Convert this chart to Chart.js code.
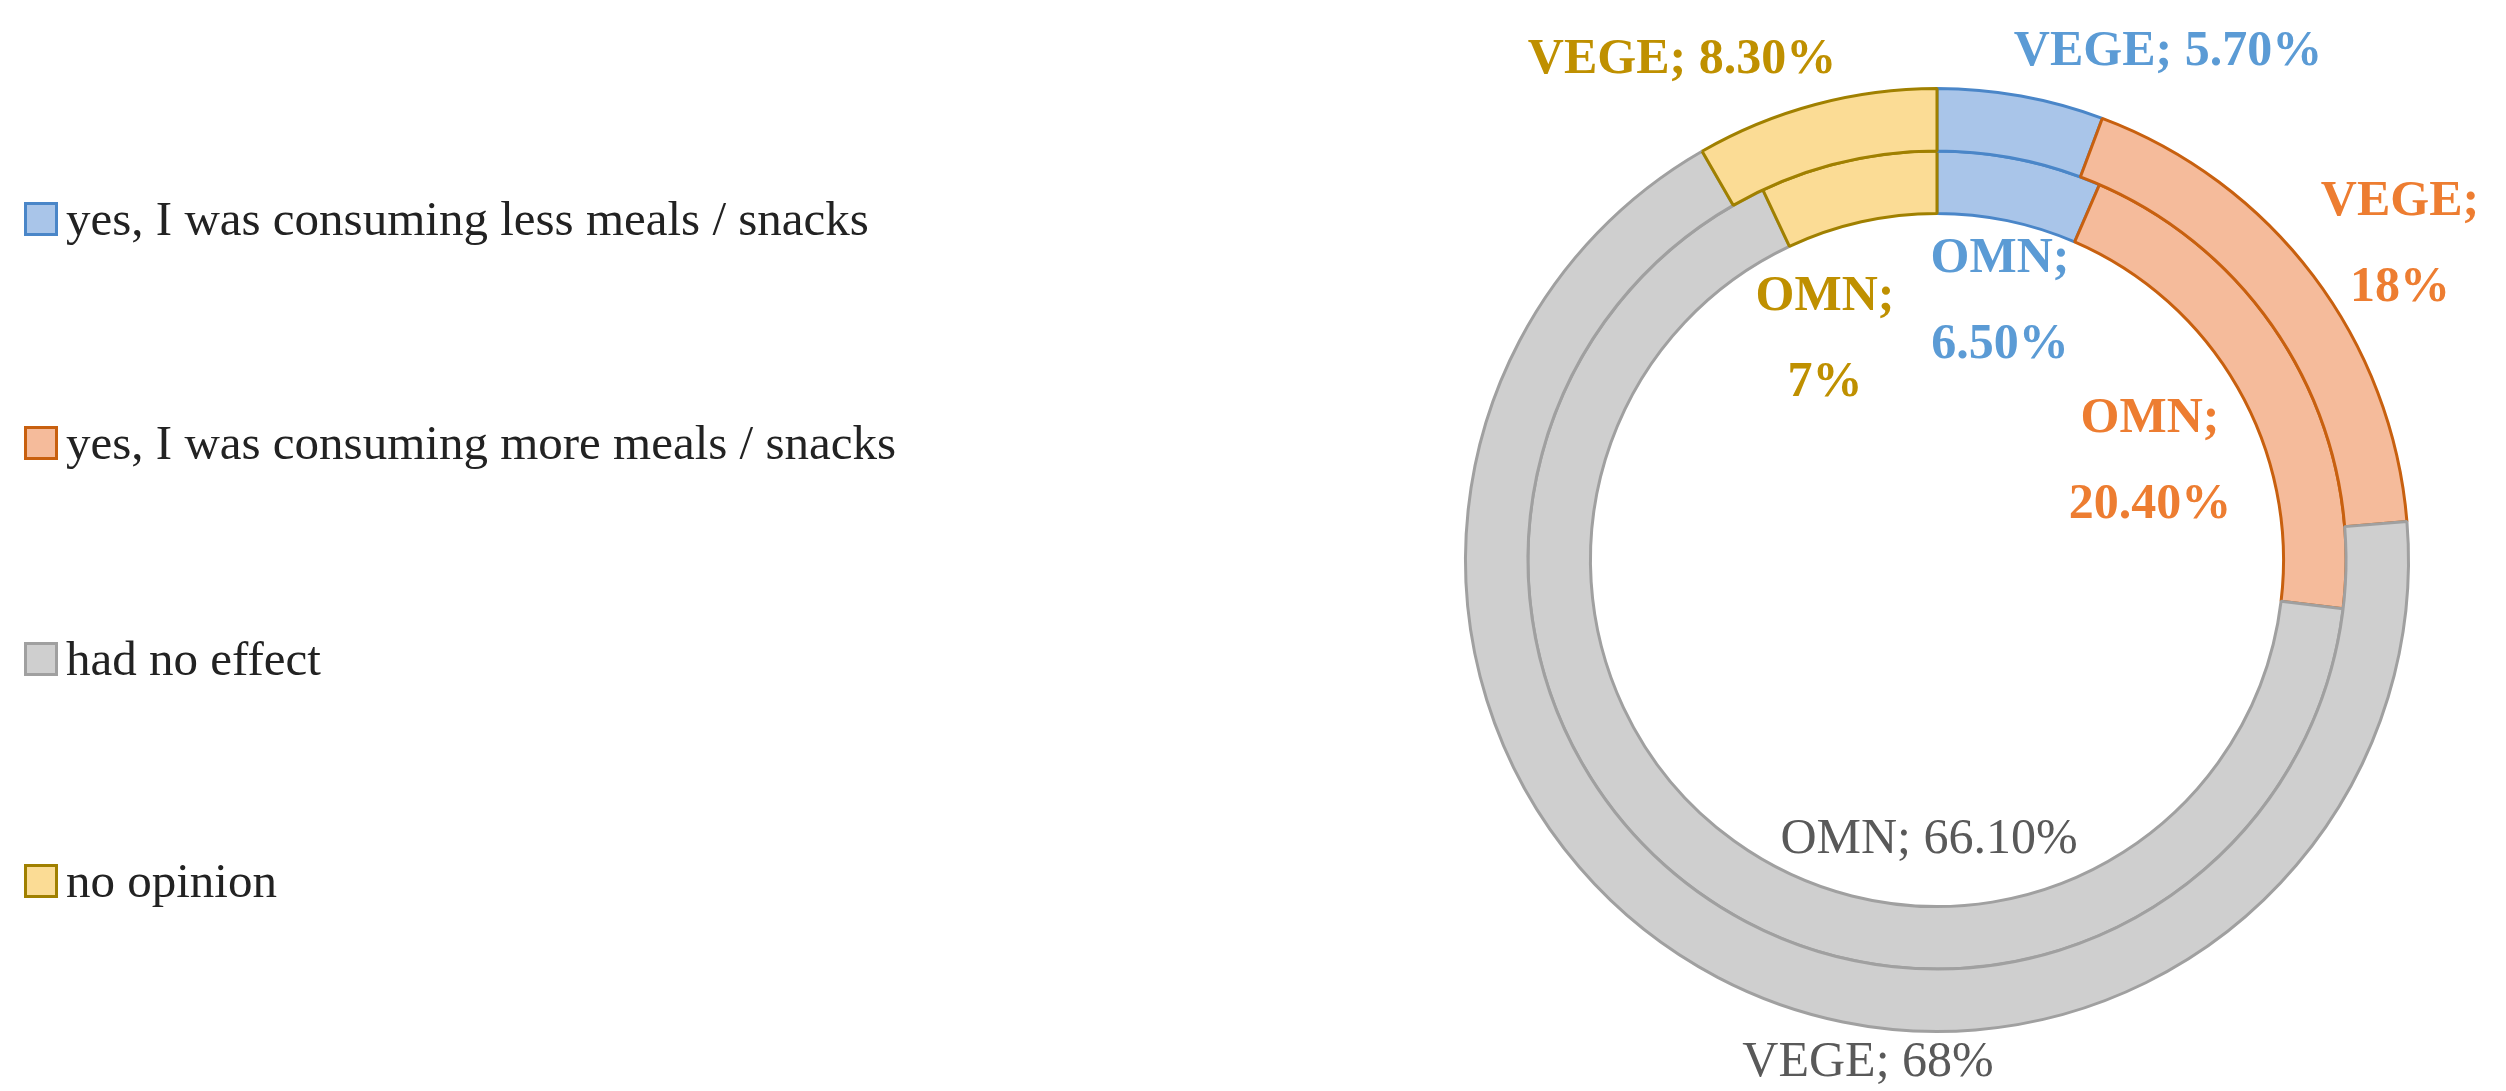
<!DOCTYPE html>
<html>
<head>
<meta charset="utf-8">
<script src="https://cdn.jsdelivr.net/npm/chart.js@4.4.0/dist/chart.umd.min.js"></script>
<style>
  body { margin: 0; background: #fff; width: 2506px; height: 1091px; overflow: hidden; font-family: "Liberation Serif", "DejaVu Serif", serif; }
  #legend { position: absolute; left: 24px; top: 0; z-index: 2; }
  .item { position: absolute; left: 0; white-space: nowrap; font-size: 49px; color: #222; display: flex; align-items: center; }
  .box { width: 28px; height: 28px; border: 3px solid; margin-right: 8px; }
  #wrap { position: absolute; left: 0; top: 0; width: 2506px; height: 1091px; }
</style>
</head>
<body>
<div id="legend"></div>
<div id="wrap"><canvas id="donut"></canvas></div>
<script>
// data
var categories = ["yes, I was consuming less meals / snacks", "yes, I was consuming more meals / snacks", "had no effect", "no opinion"];
var vegeValues = [5.7, 18, 68, 8.3];
var omnValues = [6.5, 20.4, 66.1, 7];

var fills = ["#a9c5e9", "#f5bb9b", "#cfcfcf", "#fbdc95"];
var borders = ["#4a86c8", "#c8600f", "#a0a0a0", "#a08000"];
var textColors = ["#5b9bd5", "#ed7d31", "#595959", "#bf9000"];

// legend
var legendTops = [190, 414, 630, 852];
var legend = document.getElementById("legend");
categories.forEach(function (c, i) {
  var d = document.createElement("div");
  d.className = "item";
  d.style.top = legendTops[i] + "px";
  d.innerHTML = '<span class="box" style="background:' + fills[i] + ';border-color:' + borders[i] + '"></span>' + c;
  legend.appendChild(d);
});

// label placement offsets from chart centre
var vegePos = [
  { lines: ["VEGE; 5.70%"], dx: 231, dy: -508 },
  { lines: ["VEGE;", "18%"], dx: 463, dy: -315 },
  { lines: ["VEGE; 68%"], dx: -69, dy: 503 },
  { lines: ["VEGE; 8.30%"], dx: -255, dy: -500 }
];
var omnPos = [
  { lines: ["OMN;", "6.50%"], dx: 63, dy: -258 },
  { lines: ["OMN;", "20.40%"], dx: 213, dy: -98 },
  { lines: ["OMN; 66.10%"], dx: -8, dy: 280 },
  { lines: ["OMN;", "7%"], dx: -112, dy: -220 }
];

var labelPlugin = {
  id: "ringLabels",
  afterDatasetsDraw: function (chart) {
    var ctx = chart.ctx;
    var arc = chart.getDatasetMeta(0).data[0];
    var cx = arc.x, cy = arc.y;
    [vegePos, omnPos].forEach(function (set) {
      set.forEach(function (p, i) {
        ctx.save();
        ctx.fillStyle = textColors[i];
        ctx.font = (i === 2 ? "" : "bold ") + "50px 'Liberation Serif', 'DejaVu Serif', serif";
        ctx.textAlign = "center";
        ctx.textBaseline = "middle";
        var h = 86;
        var y0 = cy + p.dy - (p.lines.length - 1) * h / 2;
        p.lines.forEach(function (t, k) { ctx.fillText(t, cx + p.dx, y0 + k * h); });
        ctx.restore();
      });
    });
  }
};

new Chart(document.getElementById("donut"), {
  type: "doughnut",
  data: {
    labels: categories,
    datasets: [
      { label: "VEGE", data: vegeValues, backgroundColor: fills, borderColor: borders, borderWidth: 3 },
      { label: "OMN", data: omnValues, backgroundColor: fills, borderColor: borders, borderWidth: 3 }
    ]
  },
  options: {
    responsive: true,
    maintainAspectRatio: false,
    animation: false,
    cutout: "73.5%",
    layout: { padding: { left: 1464, right: 96, top: 87, bottom: 58 } },
    plugins: { legend: { display: false }, tooltip: { enabled: false } }
  },
  plugins: [labelPlugin]
});
</script>
</body>
</html>
